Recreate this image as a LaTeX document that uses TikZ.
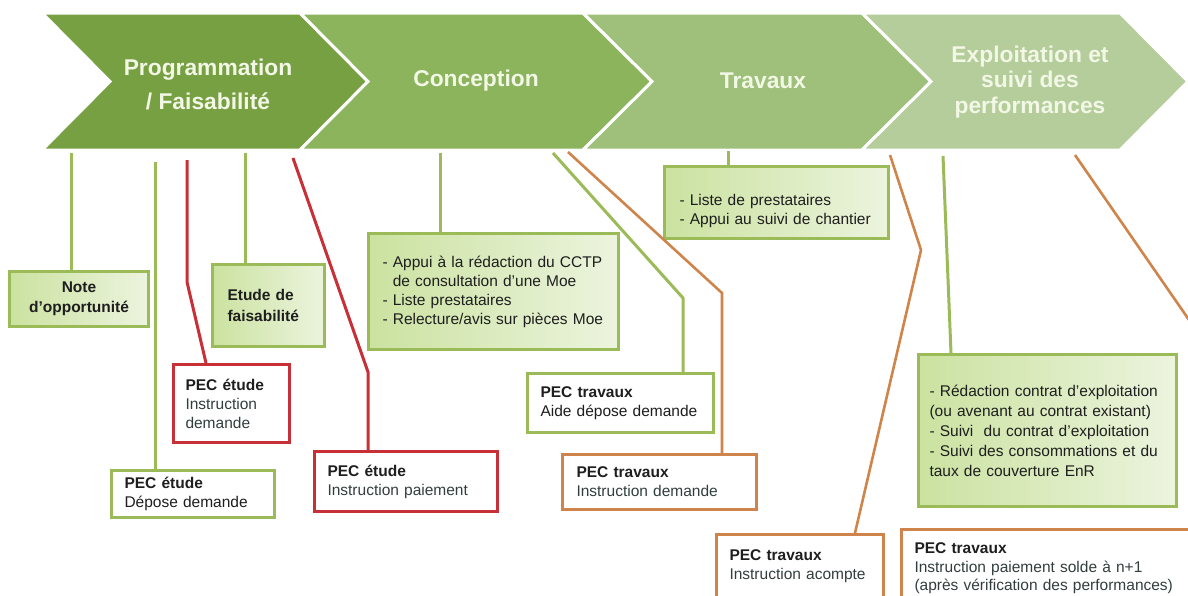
\documentclass[tikz,border=0pt]{standalone}
\usepackage{fontspec}
\setmainfont{Liberation Sans}
\usetikzlibrary{calc}

\definecolor{chevA}{RGB}{119,160,67}
\definecolor{chevB}{RGB}{139,180,92}
\definecolor{chevC}{RGB}{158,192,122}
\definecolor{chevD}{RGB}{180,205,155}
\definecolor{titre}{RGB}{242,247,230}
\definecolor{lienvert}{RGB}{155,187,89}
\definecolor{lienrouge}{RGB}{200,48,56}
\definecolor{lienorange}{RGB}{206,132,74}
\definecolor{fondA}{RGB}{203,226,160}
\definecolor{fondB}{RGB}{236,244,222}
\definecolor{texte}{RGB}{30,30,30}
\definecolor{texteB}{RGB}{50,62,62}

\begin{document}
\begin{tikzpicture}[x=1pt,y=-1pt,
  etape/.style={text=titre,font=\fontsize{22.8}{25.5}\selectfont\bfseries,align=center},
  chevron/.style={draw=white,line width=3pt,line join=miter},
  bloc/.style={line width=3pt,anchor=north west,align=left,text=texte,
    font=\fontsize{15.5}{19}\selectfont},
  blocvert/.style={bloc,draw=lienvert,left color=fondA,right color=fondB},
  blocblanc/.style={bloc,draw=lienvert,fill=white},
  blocrouge/.style={bloc,draw=lienrouge,fill=white},
  blocorange/.style={bloc,draw=lienorange,fill=white},
  lienV/.style={draw=lienvert,line width=3pt},
  lienR/.style={draw=lienrouge,line width=3pt},
  lienO/.style={draw=lienorange,line width=2.6pt}]
\useasboundingbox (0,0) rectangle (1188,595);
\clip (0,0) rectangle (1188,595);

\fill[chevA,chevron] (42,13) -- (300,13) -- (368,81.5) -- (300,150) -- (42,150) -- (110,81.5) -- cycle;
\fill[chevB,chevron] (300,13) -- (583,13) -- (652,81.5) -- (583,150) -- (300,150) -- (368,81.5) -- cycle;
\fill[chevC,chevron] (583,13) -- (862,13) -- (931,81.5) -- (862,150) -- (583,150) -- (652,81.5) -- cycle;
\fill[chevD,chevron] (862,13) -- (1120,13) -- (1188,81.5) -- (1120,150) -- (862,150) -- (931,81.5) -- cycle;

\node[etape,font=\fontsize{22.8}{34}\selectfont\bfseries] (prog) at (208,84) {Programmation\\/ Faisabilité};
\node[etape] (conc) at (476,81) {Conception};
\node[etape] (trav) at (763,81) {Travaux};
\node[etape] (expl) at (1030,82) {Exploitation et\\suivi des\\performances};

\node[blocvert,align=center,inner xsep=12,text width=115,minimum height=55,
  font=\fontsize{15.5}{20}\selectfont\bfseries] (opport) at (8,270) {Note\\d'opportunité};
\node[blocvert,inner xsep=15,text width=82,minimum height=82,
  font=\fontsize{15.5}{21}\selectfont\bfseries] (faisab) at (211,263) {Etude de\\faisabilité};
\node[blocrouge,inner xsep=12,text width=92,minimum height=78] (instrdem) at (172,363)
  {\textbf{PEC étude}\\\color{texteB}Instruction\\demande};
\node[blocblanc,inner xsep=13,text width=137,minimum height=47] (depose) at (110,469)
  {\textbf{PEC étude}\\Dépose demande};
\node[blocrouge,inner xsep=13,text width=157,minimum height=60] (instrpai) at (313,450)
  {\textbf{PEC étude}\\\color{texteB}Instruction paiement};
\node[blocvert,inner xsep=14,text width=222,minimum height=116] (conclist) at (367,232)
  {- Appui à la rédaction du CCTP\\\phantom{- }de consultation d’une Moe\\- Liste prestataires\\- Relecture/avis sur pièces Moe};
\node[blocblanc,inner xsep=13,text width=160,minimum height=59] (aidedep) at (526,372)
  {\textbf{PEC travaux}\\Aide dépose demande};
\node[blocorange,inner xsep=14,text width=166,minimum height=55] (instrtrav) at (561,453)
  {\textbf{PEC travaux}\\\color{texteB}Instruction demande};
\node[blocvert,inner xsep=15,text width=194,minimum height=72] (travlist) at (663,165)
  {\rule{0pt}{28pt}- Liste de prestataires\\- Appui au suivi de chantier};
\node[blocorange,inner xsep=13,text width=141,minimum height=64] (acompte) at (715,533)
  {\textbf{PEC travaux}\\\color{texteB}Instruction acompte};
\node[blocvert,inner xsep=11,text width=236,minimum height=152,
  font=\fontsize{15.5}{20}\selectfont] (exploit) at (917,353)
  {- Rédaction contrat d'exploitation\\(ou avenant au contrat existant)\\- Suivi \ du contrat d'exploitation\\- Suivi des consommations et du\\taux de couverture EnR};
\node[blocorange,inner xsep=13,text width=274,minimum height=78,
  font=\fontsize{15.5}{18.5}\selectfont] (solde) at (900,528)
  {\textbf{PEC travaux}\\\color{texteB}Instruction paiement solde à n+1\\(après vérification des performances)};

\coordinate (p1) at (71,153);
\coordinate (p2) at (155,162);
\coordinate (p3) at (187,160);
\coordinate (p4) at (245,153);
\coordinate (p5) at (293,158);
\coordinate (p6) at (440,153);
\coordinate (p7) at (553,153);
\coordinate (p8) at (568,152);
\coordinate (p9) at (728,151);
\coordinate (p10) at (890,155);
\coordinate (p11) at (943,156);
\coordinate (p12) at (1075,155);

\draw[lienV] (p1) -- (p1 |- opport.north);
\draw[lienV] (p2) -- (p2 |- depose.north);
\draw[lienR] (p3) -- (187,282) -- ([xshift=34]instrdem.north west);
\draw[lienV] (p4) -- (p4 |- faisab.north);
\draw[lienR] (p5) -- (368,372) coordinate (k5) -- (k5 |- instrpai.north);
\draw[lienV] (p6) -- (p6 |- conclist.north);
\draw[lienV] (p7) -- (683,298) coordinate (k7) -- (k7 |- aidedep.north);
\draw[lienO] (p8) -- (722,293) coordinate (k8) -- (k8 |- instrtrav.north);
\draw[lienV] (p9) -- (p9 |- travlist.north);
\draw[lienO] (p10) -- (921,250) -- ([xshift=140]acompte.north west);
\draw[lienV] (p11) -- ([xshift=34]exploit.north west);
\draw[lienO] (p12) -- (1196,330) coordinate (k12) -- (k12 |- solde.north);

\end{tikzpicture}
\end{document}
